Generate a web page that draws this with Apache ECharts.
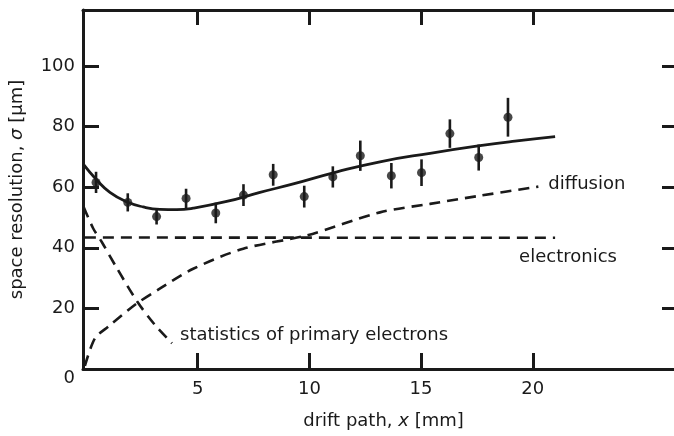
<!DOCTYPE html>
<html><head><meta charset="utf-8">
<script src="https://cdn.jsdelivr.net/npm/echarts@6/dist/echarts.min.js"></script>
<style>html,body{margin:0;padding:0;background:#fff}#c{width:674px;height:436px}</style>
</head><body><div id="c"></div>
<script>
// measured points with error bars
const pointX = [0.45, 1.87, 3.16, 4.48, 5.81, 7.05, 8.38, 9.77, 11.05, 12.28, 13.67, 15.02, 16.29, 17.58, 18.89];
const pointY = [61.6, 55.0, 50.3, 56.3, 51.5, 57.4, 64.1, 56.9, 63.4, 70.4, 63.8, 64.8, 77.7, 69.8, 83.1];
const pointErr = [3.5, 3.0, 2.6, 3.2, 3.4, 3.6, 3.6, 3.6, 3.5, 5.0, 4.2, 4.4, 4.7, 4.3, 6.4];
// total fit (solid)
const fitX = [-0.13, 0.48, 1.07, 1.82, 2.56, 3.31, 4.06, 4.8, 6.3, 7.79, 9.28, 11.2, 13.16, 15.4, 17.64, 19.2, 21.0];
const fitY = [67.7, 62.4, 58.3, 55.2, 53.5, 52.7, 52.6, 53.1, 55.3, 58.3, 61.1, 65.0, 68.4, 71.2, 73.7, 75.2, 76.7];
// diffusion contribution
const diffX = [-0.05, 0.4, 1.0, 2.27, 3.3, 4.8, 7.04, 9.88, 13.16, 15.4, 17.64, 20.25];
const diffY = [1.0, 10.1, 14.0, 21.6, 26.5, 33.1, 39.7, 44.1, 51.7, 54.5, 57.2, 60.2];
// electronics contribution
const elecX = [-0.05, 21.0];
const elecY = [43.4, 43.3];
// statistics of primary electrons
const statX = [-0.1, 0.33, 0.7, 1.35, 2.3, 3.08, 3.85];
const statY = [53.4, 46.3, 42.0, 33.7, 22.2, 14.6, 8.5];
// axis ticks
const xTicks = [5, 10, 15, 20];
const yTicks = [0, 20, 40, 60, 80, 100];
const yRightTicks = [20, 40, 60, 80, 100];

const zip = (a, b) => a.map((v, i) => [v, b[i]]);
const FONT = 'DejaVu Sans';
const INK = '#1a1a1a';
const XMIN = -0.134, XMAX = 26.77, YMAX = 118.5;
const dashed = { type: [11, 7], width: 2.6, color: INK };
const txt = { fontFamily: FONT, fontSize: 18, color: INK };

const chart = echarts.init(document.getElementById('c'), null, { renderer: 'canvas' });
const axisLine = { show: true, onZero: false, lineStyle: { color: INK, width: 3 } };
chart.setOption({
  animation: false,
  grid: { left: 83, top: 10, width: 601, height: 359, outerBoundsMode: 'none', containLabel: false },
  xAxis: [
    { type: 'value', min: XMIN, max: XMAX, position: 'bottom',
      axisLine: axisLine,
      axisTick: { inside: true, length: 16, customValues: xTicks, lineStyle: { width: 3, color: INK } },
      axisLabel: Object.assign({ customValues: xTicks, margin: 11 }, txt),
      splitLine: { show: false },
      name: 'drift path, {i|x} [mm]', nameLocation: 'middle', nameGap: 43,
      nameTextStyle: Object.assign({ rich: { i: Object.assign({ fontStyle: 'italic' }, txt) } }, txt) },
    { type: 'value', min: XMIN, max: XMAX, position: 'top',
      axisLine: axisLine,
      axisTick: { inside: true, length: 15, customValues: xTicks, lineStyle: { width: 3, color: INK } },
      axisLabel: { show: false }, splitLine: { show: false } }
  ],
  yAxis: [
    { type: 'value', min: 0, max: YMAX, position: 'left',
      axisLine: axisLine,
      axisTick: { inside: true, length: 16, customValues: yTicks, lineStyle: { width: 3, color: INK } },
      axisLabel: Object.assign({ customValues: yTicks, margin: 8,
        formatter: v => v === 0 ? '{z|0}' : String(v),
        rich: { z: Object.assign({ padding: [19, 0, 0, 0] }, txt) } }, txt),
      splitLine: { show: false },
      name: 'space resolution, {i|σ} [μm]', nameLocation: 'middle', nameGap: 57,
      nameTextStyle: Object.assign({ rich: { i: Object.assign({ fontStyle: 'italic' }, txt) } }, txt) },
    { type: 'value', min: 0, max: YMAX, position: 'right',
      axisLine: axisLine,
      axisTick: { inside: true, length: 22, customValues: yRightTicks, lineStyle: { width: 3, color: INK } },
      axisLabel: { show: false }, splitLine: { show: false } }
  ],
  series: [
    { type: 'line', data: zip(fitX, fitY), smooth: 0.5, showSymbol: false,
      lineStyle: { width: 2.8, color: INK }, z: 3 },
    { type: 'line', data: zip(diffX, diffY), smooth: 0.3, showSymbol: false, lineStyle: dashed,
      endLabel: Object.assign({ show: true, formatter: 'diffusion', distance: 9, offset: [1, -2] }, txt) },
    { type: 'line', data: zip(elecX, elecY), showSymbol: false, lineStyle: dashed,
      endLabel: Object.assign({ show: true, formatter: 'electronics', distance: 8, offset: [-44, 20] }, txt) },
    { type: 'line', data: zip(statX, statY), smooth: 0.3, showSymbol: false, lineStyle: dashed,
      endLabel: Object.assign({ show: true, formatter: 'statistics of primary electrons', distance: 8, offset: [0, -8] }, txt) },
    { type: 'custom', data: pointX.map((x, i) => [x, pointY[i] - pointErr[i], pointY[i] + pointErr[i]]),
      renderItem: (params, api) => {
        const lo = api.coord([api.value(0), api.value(1)]);
        const hi = api.coord([api.value(0), api.value(2)]);
        return { type: 'line', shape: { x1: lo[0], y1: lo[1], x2: hi[0], y2: hi[1] },
          style: { stroke: INK, lineWidth: 2.6 } };
      }, z: 4 },
    { type: 'scatter', data: zip(pointX, pointY), symbol: 'circle', symbolSize: 9,
      itemStyle: { color: INK }, z: 5 }
  ]
});
</script></body></html>
